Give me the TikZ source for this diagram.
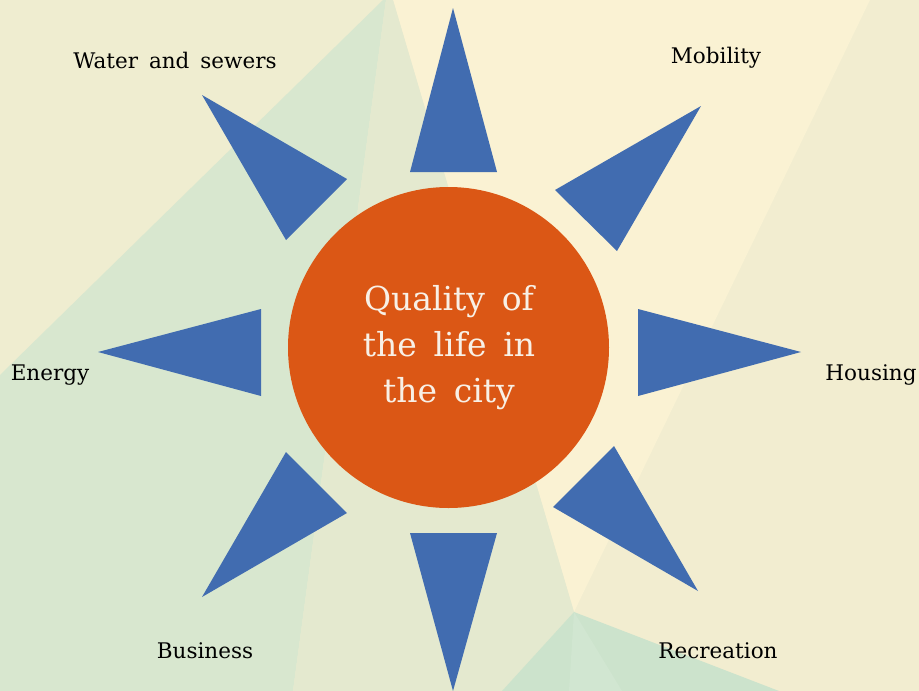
\documentclass[tikz,border=0pt]{standalone}
\usepackage{fontspec}
\setmainfont[WordSpace=1.6]{DejaVu Serif}
\definecolor{bgbase}{HTML}{EFEDD0}
\definecolor{bgyellow}{HTML}{FAF2D3}
\definecolor{bgright}{HTML}{F2EDD0}
\definecolor{bggreen}{HTML}{D8E7CF}
\definecolor{bgmid}{HTML}{E4E9CF}
\definecolor{bgbottom}{HTML}{CCE3CC}
\definecolor{sunorange}{HTML}{DB5715}
\definecolor{rayblue}{HTML}{416CB0}
\definecolor{suntext}{HTML}{F8F0E6}
\tikzset{
  ray/.style={fill=rayblue, draw=none},
  lbl/.style={anchor=base, font=\fontsize{21.5}{26}\selectfont, text=black, inner sep=0pt},
  sun/.style={circle, fill=sunorange, draw=none, minimum size=321pt, inner sep=0pt}
}
\begin{document}
\begin{tikzpicture}[x=1pt,y=-1pt]
\useasboundingbox (0,0) rectangle (919,691);
% background
\fill[bgbase] (0,0) rectangle (919,691);
\fill[bgright] (574,612) -- (870,0) -- (919,0) -- (919,691) -- (779,691) -- cycle;
\fill[bgyellow] (393,0) -- (870,0) -- (574,612) -- cycle;
\fill[bggreen] (383,0) -- (386,0) -- (293,691) -- (0,691) -- (0,375) -- cycle;
\fill[bgmid] (386,0) -- (393,0) -- (574,612) -- (502,691) -- (293,691) -- cycle;
\fill[bgbottom] (574,612) -- (779,691) -- (502,691) -- cycle;
\fill[bgbottom!90!white] (574,612) -- (622,691) -- (569,691) -- cycle;
% rays
\fill[ray] (453,8) -- (497,172) -- (410,172) -- cycle;
\fill[ray] (453,691) -- (497,533) -- (410,533) -- cycle;
\fill[ray] (98,352) -- (261,309) -- (261,396) -- cycle;
\fill[ray] (801,352) -- (638,309) -- (638,396) -- cycle;
\fill[ray] (202,95) -- (347,179) -- (286,240) -- cycle;
\fill[ray] (701,106) -- (555,190) -- (617,251) -- cycle;
\fill[ray] (202,597) -- (347,513) -- (286,452) -- cycle;
\fill[ray] (698,591) -- (553,507) -- (614,446) -- cycle;
% sun
\node[sun] (center) at (448.5,347.5) {};
\node[anchor=base, text=suntext, font=\fontsize{33}{46}\selectfont, align=center, inner sep=0pt] (qtext) at (449,402) {Quality of\\the life in\\the city};
% labels
\node[lbl] (water) at (175,68) {Water and sewers};
\node[lbl] (mobility) at (716,63) {Mobility};
\node[lbl] (energy) at (50,380) {Energy};
\node[lbl] (housing) at (871,380) {Housing};
\node[lbl] (business) at (205,658) {Business};
\node[lbl] (recreation) at (718,658) {Recreation};
\end{tikzpicture}
\end{document}
